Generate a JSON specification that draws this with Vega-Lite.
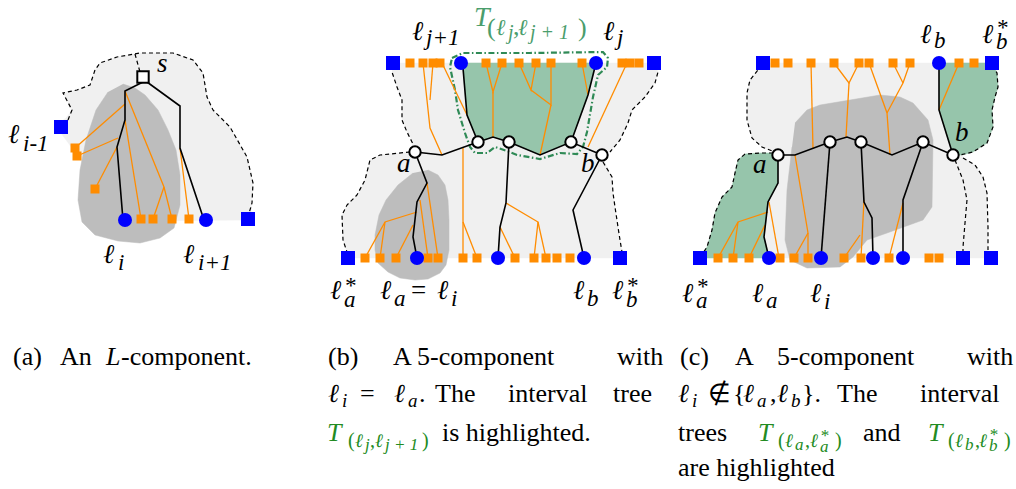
{
"$schema": "https://vega.github.io/schema/vega-lite/v6.json",
"width": 1016, "height": 489,
"autosize": {"type": "fit", "contains": "padding"},
"padding": 0,
"background": "white",
"config": {"view": {"stroke": null}, "text": {"font": "Liberation Serif"}},
"datasets": {
"polys": [
{"id":"LA","k":"L","i":0,"x":61,"y":122},{"id":"LA","k":"L","i":1,"x":66,"y":118},{"id":"LA","k":"L","i":2,"x":72,"y":110},{"id":"LA","k":"L","i":3,"x":63,"y":93},{"id":"LA","k":"L","i":4,"x":77,"y":90},{"id":"LA","k":"L","i":5,"x":90,"y":85},{"id":"LA","k":"L","i":6,"x":95,"y":70},{"id":"LA","k":"L","i":7,"x":100,"y":63},{"id":"LA","k":"L","i":8,"x":117,"y":57},{"id":"LA","k":"L","i":9,"x":140,"y":53},{"id":"LA","k":"L","i":10,"x":173,"y":53},{"id":"LA","k":"L","i":11,"x":193,"y":60},{"id":"LA","k":"L","i":12,"x":203,"y":73},{"id":"LA","k":"L","i":13,"x":207,"y":97},{"id":"LA","k":"L","i":14,"x":213,"y":110},{"id":"LA","k":"L","i":15,"x":230,"y":127},{"id":"LA","k":"L","i":16,"x":247,"y":157},{"id":"LA","k":"L","i":17,"x":253,"y":183},{"id":"LA","k":"L","i":18,"x":252,"y":203},{"id":"LA","k":"L","i":19,"x":250,"y":220},{"id":"LA","k":"L","i":20,"x":125,"y":221},{"id":"LA","k":"L","i":21,"x":61,"y":133},
{"id":"DA","k":"D","i":0,"x":123,"y":84},{"id":"DA","k":"D","i":1,"x":135,"y":88},{"id":"DA","k":"D","i":2,"x":145,"y":95},{"id":"DA","k":"D","i":3,"x":158,"y":110},{"id":"DA","k":"D","i":4,"x":168,"y":130},{"id":"DA","k":"D","i":5,"x":176,"y":150},{"id":"DA","k":"D","i":6,"x":180,"y":175},{"id":"DA","k":"D","i":7,"x":180,"y":205},{"id":"DA","k":"D","i":8,"x":174,"y":228},{"id":"DA","k":"D","i":9,"x":160,"y":238},{"id":"DA","k":"D","i":10,"x":140,"y":243},{"id":"DA","k":"D","i":11,"x":118,"y":241},{"id":"DA","k":"D","i":12,"x":95,"y":235},{"id":"DA","k":"D","i":13,"x":82,"y":222},{"id":"DA","k":"D","i":14,"x":78,"y":200},{"id":"DA","k":"D","i":15,"x":80,"y":170},{"id":"DA","k":"D","i":16,"x":86,"y":140},{"id":"DA","k":"D","i":17,"x":96,"y":110},{"id":"DA","k":"D","i":18,"x":108,"y":92},
{"id":"LB","k":"L","i":0,"x":393,"y":63},{"id":"LB","k":"L","i":1,"x":654,"y":63},{"id":"LB","k":"L","i":2,"x":658,"y":72},{"id":"LB","k":"L","i":3,"x":655,"y":83},{"id":"LB","k":"L","i":4,"x":645,"y":97},{"id":"LB","k":"L","i":5,"x":632,"y":110},{"id":"LB","k":"L","i":6,"x":628,"y":123},{"id":"LB","k":"L","i":7,"x":620,"y":140},{"id":"LB","k":"L","i":8,"x":610,"y":152},{"id":"LB","k":"L","i":9,"x":603,"y":157},{"id":"LB","k":"L","i":10,"x":606,"y":165},{"id":"LB","k":"L","i":11,"x":612,"y":177},{"id":"LB","k":"L","i":12,"x":613,"y":193},{"id":"LB","k":"L","i":13,"x":615,"y":207},{"id":"LB","k":"L","i":14,"x":618,"y":227},{"id":"LB","k":"L","i":15,"x":620,"y":240},{"id":"LB","k":"L","i":16,"x":622,"y":252},{"id":"LB","k":"L","i":17,"x":622,"y":258},{"id":"LB","k":"L","i":18,"x":348,"y":258},{"id":"LB","k":"L","i":19,"x":347,"y":252},{"id":"LB","k":"L","i":20,"x":343,"y":240},{"id":"LB","k":"L","i":21,"x":342,"y":215},{"id":"LB","k":"L","i":22,"x":347,"y":205},{"id":"LB","k":"L","i":23,"x":357,"y":195},{"id":"LB","k":"L","i":24,"x":365,"y":180},{"id":"LB","k":"L","i":25,"x":370,"y":160},{"id":"LB","k":"L","i":26,"x":380,"y":155},{"id":"LB","k":"L","i":27,"x":410,"y":152},{"id":"LB","k":"L","i":28,"x":413,"y":142},{"id":"LB","k":"L","i":29,"x":407,"y":132},{"id":"LB","k":"L","i":30,"x":402,"y":120},{"id":"LB","k":"L","i":31,"x":402,"y":100},{"id":"LB","k":"L","i":32,"x":397,"y":87},{"id":"LB","k":"L","i":33,"x":392,"y":72},
{"id":"DB","k":"D","i":0,"x":428,"y":170},{"id":"DB","k":"D","i":1,"x":438,"y":175},{"id":"DB","k":"D","i":2,"x":445,"y":185},{"id":"DB","k":"D","i":3,"x":448,"y":200},{"id":"DB","k":"D","i":4,"x":449,"y":220},{"id":"DB","k":"D","i":5,"x":449,"y":250},{"id":"DB","k":"D","i":6,"x":446,"y":265},{"id":"DB","k":"D","i":7,"x":440,"y":273},{"id":"DB","k":"D","i":8,"x":428,"y":279},{"id":"DB","k":"D","i":9,"x":415,"y":280},{"id":"DB","k":"D","i":10,"x":400,"y":278},{"id":"DB","k":"D","i":11,"x":388,"y":272},{"id":"DB","k":"D","i":12,"x":378,"y":263},{"id":"DB","k":"D","i":13,"x":375,"y":250},{"id":"DB","k":"D","i":14,"x":375,"y":235},{"id":"DB","k":"D","i":15,"x":379,"y":215},{"id":"DB","k":"D","i":16,"x":386,"y":200},{"id":"DB","k":"D","i":17,"x":398,"y":185},{"id":"DB","k":"D","i":18,"x":413,"y":173},
{"id":"GB","k":"G","i":0,"x":461,"y":63},{"id":"GB","k":"G","i":1,"x":596,"y":63},{"id":"GB","k":"G","i":2,"x":588,"y":95},{"id":"GB","k":"G","i":3,"x":571,"y":142},{"id":"GB","k":"G","i":4,"x":540,"y":155},{"id":"GB","k":"G","i":5,"x":509,"y":142},{"id":"GB","k":"G","i":6,"x":493,"y":137},{"id":"GB","k":"G","i":7,"x":478,"y":142},{"id":"GB","k":"G","i":8,"x":467,"y":115},{"id":"GB","k":"G","i":9,"x":463,"y":68},
{"id":"LC","k":"L","i":0,"x":763,"y":63},{"id":"LC","k":"L","i":1,"x":992,"y":63},{"id":"LC","k":"L","i":2,"x":997,"y":73},{"id":"LC","k":"L","i":3,"x":998,"y":87},{"id":"LC","k":"L","i":4,"x":995,"y":97},{"id":"LC","k":"L","i":5,"x":992,"y":110},{"id":"LC","k":"L","i":6,"x":993,"y":127},{"id":"LC","k":"L","i":7,"x":987,"y":143},{"id":"LC","k":"L","i":8,"x":973,"y":152},{"id":"LC","k":"L","i":9,"x":962,"y":155},{"id":"LC","k":"L","i":10,"x":963,"y":158},{"id":"LC","k":"L","i":11,"x":975,"y":165},{"id":"LC","k":"L","i":12,"x":983,"y":177},{"id":"LC","k":"L","i":13,"x":987,"y":193},{"id":"LC","k":"L","i":14,"x":988,"y":227},{"id":"LC","k":"L","i":15,"x":988,"y":250},{"id":"LC","k":"L","i":16,"x":991,"y":258},{"id":"LC","k":"L","i":17,"x":769,"y":258},{"id":"LC","k":"L","i":18,"x":764,"y":237},{"id":"LC","k":"L","i":19,"x":768,"y":202},{"id":"LC","k":"L","i":20,"x":778,"y":183},{"id":"LC","k":"L","i":21,"x":778,"y":155},{"id":"LC","k":"L","i":22,"x":775,"y":152},{"id":"LC","k":"L","i":23,"x":762,"y":147},{"id":"LC","k":"L","i":24,"x":752,"y":138},{"id":"LC","k":"L","i":25,"x":747,"y":120},{"id":"LC","k":"L","i":26,"x":747,"y":93},{"id":"LC","k":"L","i":27,"x":750,"y":80},{"id":"LC","k":"L","i":28,"x":758,"y":70},
{"id":"DC","k":"D","i":0,"x":795,"y":123},{"id":"DC","k":"D","i":1,"x":807,"y":110},{"id":"DC","k":"D","i":2,"x":820,"y":105},{"id":"DC","k":"D","i":3,"x":880,"y":95},{"id":"DC","k":"D","i":4,"x":900,"y":97},{"id":"DC","k":"D","i":5,"x":913,"y":103},{"id":"DC","k":"D","i":6,"x":928,"y":120},{"id":"DC","k":"D","i":7,"x":933,"y":140},{"id":"DC","k":"D","i":8,"x":932,"y":207},{"id":"DC","k":"D","i":9,"x":923,"y":220},{"id":"DC","k":"D","i":10,"x":887,"y":233},{"id":"DC","k":"D","i":11,"x":867,"y":240},{"id":"DC","k":"D","i":12,"x":853,"y":257},{"id":"DC","k":"D","i":13,"x":840,"y":267},{"id":"DC","k":"D","i":14,"x":807,"y":268},{"id":"DC","k":"D","i":15,"x":790,"y":260},{"id":"DC","k":"D","i":16,"x":785,"y":240},{"id":"DC","k":"D","i":17,"x":787,"y":190},{"id":"DC","k":"D","i":18,"x":792,"y":147},
{"id":"GC1","k":"G","i":0,"x":773,"y":153},{"id":"GC1","k":"G","i":1,"x":760,"y":153},{"id":"GC1","k":"G","i":2,"x":745,"y":154},{"id":"GC1","k":"G","i":3,"x":738,"y":160},{"id":"GC1","k":"G","i":4,"x":735,"y":173},{"id":"GC1","k":"G","i":5,"x":732,"y":187},{"id":"GC1","k":"G","i":6,"x":722,"y":197},{"id":"GC1","k":"G","i":7,"x":715,"y":213},{"id":"GC1","k":"G","i":8,"x":712,"y":230},{"id":"GC1","k":"G","i":9,"x":707,"y":247},{"id":"GC1","k":"G","i":10,"x":702,"y":255},{"id":"GC1","k":"G","i":11,"x":700,"y":258},{"id":"GC1","k":"G","i":12,"x":769,"y":258},{"id":"GC1","k":"G","i":13,"x":764,"y":237},{"id":"GC1","k":"G","i":14,"x":768,"y":202},{"id":"GC1","k":"G","i":15,"x":778,"y":183},{"id":"GC1","k":"G","i":16,"x":778,"y":155},
{"id":"GC2","k":"G","i":0,"x":939,"y":63},{"id":"GC2","k":"G","i":1,"x":992,"y":63},{"id":"GC2","k":"G","i":2,"x":997,"y":73},{"id":"GC2","k":"G","i":3,"x":998,"y":87},{"id":"GC2","k":"G","i":4,"x":995,"y":97},{"id":"GC2","k":"G","i":5,"x":992,"y":110},{"id":"GC2","k":"G","i":6,"x":993,"y":127},{"id":"GC2","k":"G","i":7,"x":987,"y":143},{"id":"GC2","k":"G","i":8,"x":973,"y":152},{"id":"GC2","k":"G","i":9,"x":962,"y":155},{"id":"GC2","k":"G","i":10,"x":953,"y":155},{"id":"GC2","k":"G","i":11,"x":939,"y":110}
],
"dashes": [
{"id":"da1","k":"d","i":0,"x":68,"y":120},{"id":"da1","k":"d","i":1,"x":72,"y":110},{"id":"da1","k":"d","i":2,"x":63,"y":93},{"id":"da1","k":"d","i":3,"x":77,"y":90},{"id":"da1","k":"d","i":4,"x":90,"y":85},{"id":"da1","k":"d","i":5,"x":95,"y":70},{"id":"da1","k":"d","i":6,"x":100,"y":63},{"id":"da1","k":"d","i":7,"x":117,"y":57},{"id":"da1","k":"d","i":8,"x":140,"y":53},{"id":"da1","k":"d","i":9,"x":173,"y":53},{"id":"da1","k":"d","i":10,"x":193,"y":60},{"id":"da1","k":"d","i":11,"x":203,"y":73},{"id":"da1","k":"d","i":12,"x":207,"y":97},{"id":"da1","k":"d","i":13,"x":213,"y":110},{"id":"da1","k":"d","i":14,"x":230,"y":127},{"id":"da1","k":"d","i":15,"x":247,"y":157},{"id":"da1","k":"d","i":16,"x":253,"y":183},{"id":"da1","k":"d","i":17,"x":252,"y":203},{"id":"da1","k":"d","i":18,"x":248,"y":217},
{"id":"da2","k":"d","i":0,"x":135,"y":54},{"id":"da2","k":"d","i":1,"x":140,"y":72},
{"id":"db1","k":"d","i":0,"x":392,"y":66},{"id":"db1","k":"d","i":1,"x":392,"y":72},{"id":"db1","k":"d","i":2,"x":397,"y":87},{"id":"db1","k":"d","i":3,"x":402,"y":100},{"id":"db1","k":"d","i":4,"x":402,"y":120},{"id":"db1","k":"d","i":5,"x":407,"y":132},{"id":"db1","k":"d","i":6,"x":413,"y":144},
{"id":"db2","k":"d","i":0,"x":410,"y":152},{"id":"db2","k":"d","i":1,"x":380,"y":155},{"id":"db2","k":"d","i":2,"x":370,"y":160},{"id":"db2","k":"d","i":3,"x":365,"y":180},{"id":"db2","k":"d","i":4,"x":357,"y":195},{"id":"db2","k":"d","i":5,"x":347,"y":205},{"id":"db2","k":"d","i":6,"x":342,"y":215},{"id":"db2","k":"d","i":7,"x":343,"y":240},{"id":"db2","k":"d","i":8,"x":347,"y":252},
{"id":"db3","k":"d","i":0,"x":656,"y":66},{"id":"db3","k":"d","i":1,"x":658,"y":72},{"id":"db3","k":"d","i":2,"x":655,"y":83},{"id":"db3","k":"d","i":3,"x":645,"y":97},{"id":"db3","k":"d","i":4,"x":632,"y":110},{"id":"db3","k":"d","i":5,"x":628,"y":123},{"id":"db3","k":"d","i":6,"x":620,"y":140},{"id":"db3","k":"d","i":7,"x":610,"y":152},
{"id":"db4","k":"d","i":0,"x":603,"y":162},{"id":"db4","k":"d","i":1,"x":612,"y":177},{"id":"db4","k":"d","i":2,"x":613,"y":193},{"id":"db4","k":"d","i":3,"x":615,"y":207},{"id":"db4","k":"d","i":4,"x":618,"y":227},{"id":"db4","k":"d","i":5,"x":620,"y":240},{"id":"db4","k":"d","i":6,"x":622,"y":252},
{"id":"dc1","k":"d","i":0,"x":763,"y":66},{"id":"dc1","k":"d","i":1,"x":758,"y":70},{"id":"dc1","k":"d","i":2,"x":750,"y":80},{"id":"dc1","k":"d","i":3,"x":747,"y":93},{"id":"dc1","k":"d","i":4,"x":747,"y":120},{"id":"dc1","k":"d","i":5,"x":752,"y":138},{"id":"dc1","k":"d","i":6,"x":762,"y":147},{"id":"dc1","k":"d","i":7,"x":775,"y":152},
{"id":"dc2","k":"d","i":0,"x":773,"y":153},{"id":"dc2","k":"d","i":1,"x":760,"y":153},{"id":"dc2","k":"d","i":2,"x":745,"y":154},{"id":"dc2","k":"d","i":3,"x":738,"y":160},{"id":"dc2","k":"d","i":4,"x":735,"y":173},{"id":"dc2","k":"d","i":5,"x":732,"y":187},{"id":"dc2","k":"d","i":6,"x":722,"y":197},{"id":"dc2","k":"d","i":7,"x":715,"y":213},{"id":"dc2","k":"d","i":8,"x":712,"y":230},{"id":"dc2","k":"d","i":9,"x":707,"y":247},{"id":"dc2","k":"d","i":10,"x":703,"y":253},
{"id":"dc3","k":"d","i":0,"x":992,"y":66},{"id":"dc3","k":"d","i":1,"x":997,"y":73},{"id":"dc3","k":"d","i":2,"x":998,"y":87},{"id":"dc3","k":"d","i":3,"x":995,"y":97},{"id":"dc3","k":"d","i":4,"x":992,"y":110},{"id":"dc3","k":"d","i":5,"x":993,"y":127},{"id":"dc3","k":"d","i":6,"x":987,"y":143},{"id":"dc3","k":"d","i":7,"x":973,"y":152},{"id":"dc3","k":"d","i":8,"x":960,"y":155},
{"id":"dc4","k":"d","i":0,"x":955,"y":160},{"id":"dc4","k":"d","i":1,"x":963,"y":180},{"id":"dc4","k":"d","i":2,"x":967,"y":200},{"id":"dc4","k":"d","i":3,"x":965,"y":223},{"id":"dc4","k":"d","i":4,"x":963,"y":247},{"id":"dc4","k":"d","i":5,"x":963,"y":252},
{"id":"dc5","k":"d","i":0,"x":963,"y":158},{"id":"dc5","k":"d","i":1,"x":975,"y":165},{"id":"dc5","k":"d","i":2,"x":983,"y":177},{"id":"dc5","k":"d","i":3,"x":987,"y":193},{"id":"dc5","k":"d","i":4,"x":988,"y":227},{"id":"dc5","k":"d","i":5,"x":988,"y":250},
{"id":"gb","k":"g","i":0,"x":452,"y":58},{"id":"gb","k":"g","i":1,"x":463,"y":53},{"id":"gb","k":"g","i":2,"x":530,"y":53},{"id":"gb","k":"g","i":3,"x":603,"y":52},{"id":"gb","k":"g","i":4,"x":608,"y":58},{"id":"gb","k":"g","i":5,"x":607,"y":67},{"id":"gb","k":"g","i":6,"x":598,"y":75},{"id":"gb","k":"g","i":7,"x":593,"y":97},{"id":"gb","k":"g","i":8,"x":587,"y":132},{"id":"gb","k":"g","i":9,"x":583,"y":147},{"id":"gb","k":"g","i":10,"x":577,"y":154},{"id":"gb","k":"g","i":11,"x":560,"y":153},{"id":"gb","k":"g","i":12,"x":540,"y":159},{"id":"gb","k":"g","i":13,"x":517,"y":155},{"id":"gb","k":"g","i":14,"x":507,"y":151},{"id":"gb","k":"g","i":15,"x":495,"y":147},{"id":"gb","k":"g","i":16,"x":487,"y":153},{"id":"gb","k":"g","i":17,"x":475,"y":153},{"id":"gb","k":"g","i":18,"x":470,"y":147},{"id":"gb","k":"g","i":19,"x":465,"y":133},{"id":"gb","k":"g","i":20,"x":458,"y":110},{"id":"gb","k":"g","i":21,"x":455,"y":90},{"id":"gb","k":"g","i":22,"x":450,"y":67},{"id":"gb","k":"g","i":23,"x":452,"y":58}
],
"edges": [
{"id":"ka1","k":"k","i":0,"x":143,"y":82},{"id":"ka1","k":"k","i":1,"x":125,"y":91},{"id":"ka1","k":"k","i":2,"x":125,"y":120},{"id":"ka1","k":"k","i":3,"x":117,"y":147},{"id":"ka1","k":"k","i":4,"x":123,"y":220},
{"id":"ka2","k":"k","i":0,"x":147,"y":82},{"id":"ka2","k":"k","i":1,"x":180,"y":106},{"id":"ka2","k":"k","i":2,"x":180,"y":148},{"id":"ka2","k":"k","i":3,"x":204,"y":220},
{"id":"kb1","k":"k","i":0,"x":415,"y":152},{"id":"kb1","k":"k","i":1,"x":442,"y":155},{"id":"kb1","k":"k","i":2,"x":478,"y":142},{"id":"kb1","k":"k","i":3,"x":493,"y":137},{"id":"kb1","k":"k","i":4,"x":509,"y":142},{"id":"kb1","k":"k","i":5,"x":540,"y":155},{"id":"kb1","k":"k","i":6,"x":571,"y":142},{"id":"kb1","k":"k","i":7,"x":602,"y":155},
{"id":"kb2","k":"k","i":0,"x":478,"y":142},{"id":"kb2","k":"k","i":1,"x":467,"y":115},{"id":"kb2","k":"k","i":2,"x":463,"y":68},{"id":"kb2","k":"k","i":3,"x":461,"y":63},
{"id":"kb3","k":"k","i":0,"x":571,"y":142},{"id":"kb3","k":"k","i":1,"x":588,"y":95},{"id":"kb3","k":"k","i":2,"x":596,"y":63},
{"id":"kb4","k":"k","i":0,"x":415,"y":152},{"id":"kb4","k":"k","i":1,"x":427,"y":183},{"id":"kb4","k":"k","i":2,"x":417,"y":202},{"id":"kb4","k":"k","i":3,"x":413,"y":237},{"id":"kb4","k":"k","i":4,"x":417,"y":258},
{"id":"kb5","k":"k","i":0,"x":509,"y":142},{"id":"kb5","k":"k","i":1,"x":506,"y":203},{"id":"kb5","k":"k","i":2,"x":500,"y":227},{"id":"kb5","k":"k","i":3,"x":498,"y":258},
{"id":"kb6","k":"k","i":0,"x":602,"y":155},{"id":"kb6","k":"k","i":1,"x":573,"y":210},{"id":"kb6","k":"k","i":2,"x":584,"y":258},
{"id":"kc1","k":"k","i":0,"x":778,"y":155},{"id":"kc1","k":"k","i":1,"x":795,"y":155},{"id":"kc1","k":"k","i":2,"x":830,"y":142},{"id":"kc1","k":"k","i":3,"x":847,"y":137},{"id":"kc1","k":"k","i":4,"x":861,"y":142},{"id":"kc1","k":"k","i":5,"x":892,"y":155},{"id":"kc1","k":"k","i":6,"x":923,"y":142},{"id":"kc1","k":"k","i":7,"x":953,"y":155},
{"id":"kc2","k":"k","i":0,"x":953,"y":155},{"id":"kc2","k":"k","i":1,"x":939,"y":110},{"id":"kc2","k":"k","i":2,"x":939,"y":63},
{"id":"kc3","k":"k","i":0,"x":778,"y":155},{"id":"kc3","k":"k","i":1,"x":778,"y":183},{"id":"kc3","k":"k","i":2,"x":768,"y":202},{"id":"kc3","k":"k","i":3,"x":764,"y":237},{"id":"kc3","k":"k","i":4,"x":769,"y":258},
{"id":"kc4","k":"k","i":0,"x":830,"y":142},{"id":"kc4","k":"k","i":1,"x":821,"y":258},
{"id":"kc5","k":"k","i":0,"x":861,"y":142},{"id":"kc5","k":"k","i":1,"x":864,"y":202},{"id":"kc5","k":"k","i":2,"x":872,"y":218},{"id":"kc5","k":"k","i":3,"x":873,"y":258},
{"id":"kc6","k":"k","i":0,"x":923,"y":142},{"id":"kc6","k":"k","i":1,"x":903,"y":200},{"id":"kc6","k":"k","i":2,"x":903,"y":258},
{"id":"oa1","k":"o","i":0,"x":125,"y":104},{"id":"oa1","k":"o","i":1,"x":75,"y":148},
{"id":"oa2","k":"o","i":0,"x":118,"y":138},{"id":"oa2","k":"o","i":1,"x":77,"y":156},
{"id":"oa3","k":"o","i":0,"x":117,"y":147},{"id":"oa3","k":"o","i":1,"x":95,"y":189},
{"id":"oa4","k":"o","i":0,"x":125,"y":120},{"id":"oa4","k":"o","i":1,"x":141,"y":219},
{"id":"oa5","k":"o","i":0,"x":125,"y":91},{"id":"oa5","k":"o","i":1,"x":164,"y":187},{"id":"oa5","k":"o","i":2,"x":172,"y":219},
{"id":"oa6","k":"o","i":0,"x":164,"y":187},{"id":"oa6","k":"o","i":1,"x":153,"y":219},
{"id":"oa7","k":"o","i":0,"x":180,"y":148},{"id":"oa7","k":"o","i":1,"x":189,"y":219},
{"id":"ob1","k":"o","i":0,"x":423,"y":63},{"id":"ob1","k":"o","i":1,"x":430,"y":128},{"id":"ob1","k":"o","i":2,"x":442,"y":155},
{"id":"ob2","k":"o","i":0,"x":433,"y":63},{"id":"ob2","k":"o","i":1,"x":430,"y":100},
{"id":"ob3","k":"o","i":0,"x":442,"y":63},{"id":"ob3","k":"o","i":1,"x":467,"y":115},
{"id":"ob4","k":"o","i":0,"x":463,"y":147},{"id":"ob4","k":"o","i":1,"x":463,"y":222},{"id":"ob4","k":"o","i":2,"x":463,"y":258},
{"id":"ob5","k":"o","i":0,"x":463,"y":222},{"id":"ob5","k":"o","i":1,"x":477,"y":258},
{"id":"ob6","k":"o","i":0,"x":427,"y":183},{"id":"ob6","k":"o","i":1,"x":438,"y":258},
{"id":"ob7","k":"o","i":0,"x":420,"y":200},{"id":"ob7","k":"o","i":1,"x":428,"y":258},
{"id":"ob8","k":"o","i":0,"x":417,"y":212},{"id":"ob8","k":"o","i":1,"x":385,"y":222},{"id":"ob8","k":"o","i":2,"x":365,"y":258},
{"id":"ob9","k":"o","i":0,"x":385,"y":222},{"id":"ob9","k":"o","i":1,"x":380,"y":258},
{"id":"ob10","k":"o","i":0,"x":413,"y":225},{"id":"ob10","k":"o","i":1,"x":396,"y":258},
{"id":"ob11","k":"o","i":0,"x":506,"y":203},{"id":"ob11","k":"o","i":1,"x":538,"y":222},{"id":"ob11","k":"o","i":2,"x":534,"y":258},
{"id":"ob12","k":"o","i":0,"x":538,"y":222},{"id":"ob12","k":"o","i":1,"x":546,"y":258},
{"id":"ob13","k":"o","i":0,"x":500,"y":227},{"id":"ob13","k":"o","i":1,"x":515,"y":258},
{"id":"ob14","k":"o","i":0,"x":486,"y":63},{"id":"ob14","k":"o","i":1,"x":493,"y":92},{"id":"ob14","k":"o","i":2,"x":502,"y":63},
{"id":"ob15","k":"o","i":0,"x":493,"y":92},{"id":"ob15","k":"o","i":1,"x":493,"y":137},
{"id":"ob16","k":"o","i":0,"x":519,"y":63},{"id":"ob16","k":"o","i":1,"x":531,"y":90},{"id":"ob16","k":"o","i":2,"x":536,"y":63},
{"id":"ob17","k":"o","i":0,"x":531,"y":90},{"id":"ob17","k":"o","i":1,"x":551,"y":105},{"id":"ob17","k":"o","i":2,"x":551,"y":63},
{"id":"ob18","k":"o","i":0,"x":551,"y":105},{"id":"ob18","k":"o","i":1,"x":540,"y":155},
{"id":"ob19","k":"o","i":0,"x":582,"y":63},{"id":"ob19","k":"o","i":1,"x":588,"y":95},
{"id":"ob20","k":"o","i":0,"x":627,"y":63},{"id":"ob20","k":"o","i":1,"x":588,"y":147},
{"id":"oc1","k":"o","i":0,"x":811,"y":63},{"id":"oc1","k":"o","i":1,"x":813,"y":149},
{"id":"oc2","k":"o","i":0,"x":834,"y":63},{"id":"oc2","k":"o","i":1,"x":849,"y":83},{"id":"oc2","k":"o","i":2,"x":859,"y":63},
{"id":"oc3","k":"o","i":0,"x":849,"y":83},{"id":"oc3","k":"o","i":1,"x":846,"y":137},
{"id":"oc4","k":"o","i":0,"x":869,"y":63},{"id":"oc4","k":"o","i":1,"x":887,"y":113},{"id":"oc4","k":"o","i":2,"x":890,"y":155},
{"id":"oc5","k":"o","i":0,"x":887,"y":113},{"id":"oc5","k":"o","i":1,"x":903,"y":83},{"id":"oc5","k":"o","i":2,"x":910,"y":63},
{"id":"oc6","k":"o","i":0,"x":903,"y":83},{"id":"oc6","k":"o","i":1,"x":893,"y":63},
{"id":"oc7","k":"o","i":0,"x":959,"y":63},{"id":"oc7","k":"o","i":1,"x":939,"y":110},
{"id":"oc8","k":"o","i":0,"x":795,"y":155},{"id":"oc8","k":"o","i":1,"x":808,"y":233},{"id":"oc8","k":"o","i":2,"x":808,"y":258},
{"id":"oc9","k":"o","i":0,"x":808,"y":233},{"id":"oc9","k":"o","i":1,"x":794,"y":258},
{"id":"oc10","k":"o","i":0,"x":769,"y":202},{"id":"oc10","k":"o","i":1,"x":779,"y":258},
{"id":"oc11","k":"o","i":0,"x":768,"y":212},{"id":"oc11","k":"o","i":1,"x":738,"y":222},{"id":"oc11","k":"o","i":2,"x":718,"y":258},
{"id":"oc12","k":"o","i":0,"x":738,"y":222},{"id":"oc12","k":"o","i":1,"x":733,"y":258},
{"id":"oc13","k":"o","i":0,"x":765,"y":225},{"id":"oc13","k":"o","i":1,"x":749,"y":258},
{"id":"oc14","k":"o","i":0,"x":864,"y":200},{"id":"oc14","k":"o","i":1,"x":861,"y":258},
{"id":"oc15","k":"o","i":0,"x":860,"y":235},{"id":"oc15","k":"o","i":1,"x":844,"y":258},
{"id":"oc16","k":"o","i":0,"x":903,"y":203},{"id":"oc16","k":"o","i":1,"x":889,"y":258}
],
"nodes": [
{"k":"bs","x":61,"y":127},{"k":"bs","x":248,"y":219},{"k":"bs","x":393,"y":63},{"k":"bs","x":654,"y":63},{"k":"bs","x":348,"y":258},{"k":"bs","x":620,"y":258},{"k":"bs","x":763,"y":63},{"k":"bs","x":992,"y":63},{"k":"bs","x":700,"y":258},{"k":"bs","x":963,"y":258},{"k":"bs","x":991,"y":258},
{"k":"bc","x":125,"y":220},{"k":"bc","x":206,"y":220},{"k":"bc","x":461,"y":63},{"k":"bc","x":596,"y":63},{"k":"bc","x":417,"y":258},{"k":"bc","x":498,"y":258},{"k":"bc","x":584,"y":258},{"k":"bc","x":939,"y":63},{"k":"bc","x":769,"y":258},{"k":"bc","x":821,"y":258},{"k":"bc","x":873,"y":258},{"k":"bc","x":903,"y":258},
{"k":"os","x":75,"y":148},{"k":"os","x":77,"y":156},{"k":"os","x":95,"y":189},{"k":"os","x":141,"y":219},{"k":"os","x":153,"y":219},{"k":"os","x":172,"y":219},{"k":"os","x":189,"y":219},
{"k":"os","x":410,"y":63},{"k":"os","x":423,"y":63},{"k":"os","x":433,"y":63},{"k":"os","x":440,"y":63},{"k":"os","x":486,"y":63},{"k":"os","x":502,"y":63},{"k":"os","x":519,"y":63},{"k":"os","x":536,"y":63},{"k":"os","x":551,"y":63},{"k":"os","x":582,"y":63},{"k":"os","x":622,"y":63},{"k":"os","x":630,"y":63},{"k":"os","x":639,"y":63},
{"k":"os","x":365,"y":258},{"k":"os","x":380,"y":258},{"k":"os","x":396,"y":258},{"k":"os","x":428,"y":258},{"k":"os","x":438,"y":258},{"k":"os","x":463,"y":258},{"k":"os","x":477,"y":258},{"k":"os","x":515,"y":258},{"k":"os","x":534,"y":258},{"k":"os","x":546,"y":258},{"k":"os","x":557,"y":258},{"k":"os","x":570,"y":258},
{"k":"os","x":775,"y":63},{"k":"os","x":788,"y":63},{"k":"os","x":811,"y":63},{"k":"os","x":834,"y":63},{"k":"os","x":859,"y":63},{"k":"os","x":869,"y":63},{"k":"os","x":893,"y":63},{"k":"os","x":910,"y":63},{"k":"os","x":959,"y":63},{"k":"os","x":974,"y":63},
{"k":"os","x":718,"y":258},{"k":"os","x":733,"y":258},{"k":"os","x":749,"y":258},{"k":"os","x":780,"y":258},{"k":"os","x":794,"y":258},{"k":"os","x":808,"y":258},{"k":"os","x":844,"y":258},{"k":"os","x":861,"y":258},{"k":"os","x":889,"y":258},{"k":"os","x":929,"y":258},{"k":"os","x":939,"y":258},
{"k":"wc","x":415,"y":152},{"k":"wc","x":478,"y":142},{"k":"wc","x":509,"y":142},{"k":"wc","x":571,"y":142},{"k":"wc","x":602,"y":155},{"k":"wc","x":778,"y":155},{"k":"wc","x":830,"y":142},{"k":"wc","x":861,"y":142},{"k":"wc","x":923,"y":142},{"k":"wc","x":953,"y":155},
{"k":"ws","x":143,"y":77}
],
"labels": [
{"r":"B","c":"k","t":"ℓ","x":8,"y":143},{"r":"S","c":"k","t":"i-1","x":23,"y":151},
{"r":"B","c":"k","t":"s","x":157,"y":72},
{"r":"B","c":"k","t":"ℓ","x":103,"y":263},{"r":"S","c":"k","t":"i","x":118,"y":270},
{"r":"B","c":"k","t":"ℓ","x":183,"y":263},{"r":"S","c":"k","t":"i+1","x":198,"y":270},
{"r":"B","c":"k","t":"ℓ","x":412,"y":40},{"r":"S","c":"k","t":"j+1","x":426,"y":45},
{"r":"B","c":"k","t":"ℓ","x":603,"y":40},{"r":"S","c":"k","t":"j","x":617,"y":45},
{"r":"T","c":"g","t":"T","x":474,"y":26},{"r":"TR","c":"g","t":"(","x":487,"y":36},{"r":"TS","c":"g","t":"ℓ","x":496,"y":35},{"r":"TSS","c":"g","t":"j","x":508,"y":39},{"r":"TR","c":"g","t":",","x":513,"y":35},{"r":"TS","c":"g","t":"ℓ","x":518,"y":35},{"r":"TSS","c":"g","t":"j + 1","x":530,"y":39},{"r":"TR","c":"g","t":")","x":578,"y":36},
{"r":"B","c":"k","t":"a","x":397,"y":172},{"r":"B","c":"k","t":"b","x":581,"y":172},
{"r":"B","c":"k","t":"ℓ","x":330,"y":299},{"r":"S","c":"k","t":"*\na","x":344,"y":293},
{"r":"B","c":"k","t":"ℓ","x":380,"y":299},{"r":"S","c":"k","t":"a","x":394,"y":306},{"r":"BR","c":"k","t":"=","x":411,"y":299},{"r":"B","c":"k","t":"ℓ","x":437,"y":299},{"r":"S","c":"k","t":"i","x":451,"y":306},
{"r":"B","c":"k","t":"ℓ","x":573,"y":299},{"r":"S","c":"k","t":"b","x":587,"y":306},
{"r":"B","c":"k","t":"ℓ","x":612,"y":299},{"r":"S","c":"k","t":"*\nb","x":626,"y":293},
{"r":"B","c":"k","t":"ℓ","x":920,"y":43},{"r":"S","c":"k","t":"b","x":934,"y":48},
{"r":"B","c":"k","t":"ℓ","x":982,"y":43},{"r":"S","c":"k","t":"*\nb","x":996,"y":35},
{"r":"B","c":"k","t":"b","x":955,"y":141},{"r":"B","c":"k","t":"a","x":753,"y":173},
{"r":"B","c":"k","t":"ℓ","x":682,"y":302},{"r":"S","c":"k","t":"*\na","x":696,"y":294},
{"r":"B","c":"k","t":"ℓ","x":752,"y":302},{"r":"S","c":"k","t":"a","x":766,"y":308},
{"r":"B","c":"k","t":"ℓ","x":810,"y":302},{"r":"S","c":"k","t":"i","x":824,"y":309},
{"r":"C","c":"k","t":"(a)","x":13,"y":365},{"r":"C","c":"k","t":"An","x":60,"y":365},{"r":"CI","c":"k","t":"L","x":106,"y":365},{"r":"C","c":"k","t":"-component.","x":121,"y":365},
{"r":"C","c":"k","t":"(b)","x":328,"y":365},{"r":"C","c":"k","t":"A","x":393,"y":365},{"r":"C","c":"k","t":"5-component","x":417,"y":365},{"r":"C","c":"k","t":"with","x":617,"y":365},
{"r":"CI","c":"k","t":"ℓ","x":328,"y":402},{"r":"CS","c":"k","t":"i","x":342,"y":407},{"r":"C","c":"k","t":"=","x":360,"y":402},{"r":"CI","c":"k","t":"ℓ","x":394,"y":402},{"r":"CS","c":"k","t":"a","x":408,"y":407},{"r":"C","c":"k","t":".","x":419,"y":402},{"r":"C","c":"k","t":"The","x":435,"y":402},{"r":"C","c":"k","t":"interval","x":508,"y":402},{"r":"C","c":"k","t":"tree","x":613,"y":402},
{"r":"CI","c":"h","t":"T","x":327,"y":441},{"r":"CSR","c":"h","t":"(","x":348,"y":447},{"r":"CS","c":"h","t":"ℓ","x":355,"y":447},{"r":"CSS","c":"h","t":"j","x":365,"y":450},{"r":"CSR","c":"h","t":",","x":370,"y":447},{"r":"CS","c":"h","t":"ℓ","x":375,"y":447},{"r":"CSS","c":"h","t":"j + 1","x":385,"y":450},{"r":"CSR","c":"h","t":")","x":422,"y":447},{"r":"C","c":"k","t":"is highlighted.","x":442,"y":441},
{"r":"C","c":"k","t":"(c)","x":680,"y":365},{"r":"C","c":"k","t":"A","x":735,"y":365},{"r":"C","c":"k","t":"5-component","x":777,"y":365},{"r":"C","c":"k","t":"with","x":967,"y":365},
{"r":"CI","c":"k","t":"ℓ","x":678,"y":402},{"r":"CS","c":"k","t":"i","x":692,"y":407},{"r":"C","c":"k","t":"∉","x":708,"y":402},{"r":"C","c":"k","t":"{","x":733,"y":402},{"r":"CI","c":"k","t":"ℓ","x":743,"y":402},{"r":"CS","c":"k","t":"a","x":757,"y":407},{"r":"C","c":"k","t":",","x":770,"y":402},{"r":"CI","c":"k","t":"ℓ","x":777,"y":402},{"r":"CS","c":"k","t":"b","x":791,"y":407},{"r":"C","c":"k","t":"}.","x":802,"y":402},{"r":"C","c":"k","t":"The","x":837,"y":402},{"r":"C","c":"k","t":"interval","x":920,"y":402},
{"r":"C","c":"k","t":"trees","x":678,"y":441},{"r":"CI","c":"h","t":"T","x":758,"y":441},{"r":"CSR","c":"h","t":"(","x":778,"y":447},{"r":"CS","c":"h","t":"ℓ","x":785,"y":447},{"r":"CSS","c":"h","t":"a","x":795,"y":450},{"r":"CSR","c":"h","t":",","x":805,"y":447},{"r":"CS","c":"h","t":"ℓ","x":810,"y":447},{"r":"CSS","c":"h","t":"*\na","x":820,"y":441},{"r":"CSR","c":"h","t":")","x":835,"y":447},
{"r":"C","c":"k","t":"and","x":863,"y":441},{"r":"CI","c":"h","t":"T","x":928,"y":441},{"r":"CSR","c":"h","t":"(","x":948,"y":447},{"r":"CS","c":"h","t":"ℓ","x":955,"y":447},{"r":"CSS","c":"h","t":"b","x":965,"y":450},{"r":"CSR","c":"h","t":",","x":975,"y":447},{"r":"CS","c":"h","t":"ℓ","x":979,"y":447},{"r":"CSS","c":"h","t":"*\nb","x":989,"y":440},{"r":"CSR","c":"h","t":")","x":1004,"y":447},
{"r":"C","c":"k","t":"are highlighted","x":678,"y":476}
]
},
"encoding": {
"x": {"field": "x", "type": "quantitative", "scale": {"domain": [0, 1016], "nice": false, "zero": false}, "axis": null},
"y": {"field": "y", "type": "quantitative", "scale": {"domain": [0, 489], "nice": false, "zero": false, "reverse": true}, "axis": null}
},
"layer": [
{"data": {"name": "polys"}, "transform": [{"filter": "datum.k == 'L'"}], "mark": {"type": "line", "fill": "#f0f0f0", "stroke": "#f0f0f0", "strokeWidth": 0.5}, "encoding": {"detail": {"field": "id"}, "order": {"field": "i", "type": "quantitative"}}},
{"data": {"name": "polys"}, "transform": [{"filter": "datum.k == 'D'"}], "mark": {"type": "line", "fill": "#bdbdbd", "stroke": "#bdbdbd", "strokeWidth": 0.5}, "encoding": {"detail": {"field": "id"}, "order": {"field": "i", "type": "quantitative"}}},
{"data": {"name": "polys"}, "transform": [{"filter": "datum.k == 'G'"}], "mark": {"type": "line", "fill": "#96c5ab", "stroke": "#96c5ab", "strokeWidth": 0.5}, "encoding": {"detail": {"field": "id"}, "order": {"field": "i", "type": "quantitative"}}},
{"data": {"name": "dashes"}, "transform": [{"filter": "datum.k == 'd'"}], "mark": {"type": "line", "color": "black", "strokeWidth": 1.2, "strokeDash": [4, 3]}, "encoding": {"detail": {"field": "id"}, "order": {"field": "i", "type": "quantitative"}}},
{"data": {"name": "dashes"}, "transform": [{"filter": "datum.k == 'g'"}], "mark": {"type": "line", "color": "#2f8a56", "strokeWidth": 2.2, "strokeDash": [6, 2.5, 1.5, 2.5]}, "encoding": {"detail": {"field": "id"}, "order": {"field": "i", "type": "quantitative"}}},
{"data": {"name": "edges"}, "transform": [{"filter": "datum.k == 'o'"}], "mark": {"type": "line", "color": "#ff8c00", "strokeWidth": 1.3}, "encoding": {"detail": {"field": "id"}, "order": {"field": "i", "type": "quantitative"}}},
{"data": {"name": "edges"}, "transform": [{"filter": "datum.k == 'k'"}], "mark": {"type": "line", "color": "black", "strokeWidth": 1.6}, "encoding": {"detail": {"field": "id"}, "order": {"field": "i", "type": "quantitative"}}},
{"data": {"name": "nodes"}, "transform": [{"filter": "datum.k == 'os'"}], "mark": {"type": "point", "shape": "square", "filled": true, "color": "#ff8c00", "size": 81, "opacity": 1}},
{"data": {"name": "nodes"}, "transform": [{"filter": "datum.k == 'bs'"}], "mark": {"type": "point", "shape": "square", "filled": true, "color": "#0000ff", "size": 196, "opacity": 1}},
{"data": {"name": "nodes"}, "transform": [{"filter": "datum.k == 'bc'"}], "mark": {"type": "point", "shape": "circle", "filled": true, "color": "#0000ff", "size": 196, "opacity": 1}},
{"data": {"name": "nodes"}, "transform": [{"filter": "datum.k == 'wc'"}], "mark": {"type": "point", "shape": "circle", "filled": true, "fill": "white", "stroke": "black", "strokeWidth": 2, "size": 130, "opacity": 1}},
{"data": {"name": "nodes"}, "transform": [{"filter": "datum.k == 'ws'"}], "mark": {"type": "point", "shape": "square", "filled": true, "fill": "white", "stroke": "black", "strokeWidth": 2, "size": 130, "opacity": 1}},
{"data": {"name": "labels"}, "transform": [{"filter": "datum.r == 'B'"}], "mark": {"type": "text", "align": "left", "baseline": "alphabetic", "font": "Liberation Serif", "fontSize": 27, "fontStyle": "italic"}, "encoding": {"text": {"field": "t"}, "color": {"field": "c", "type": "nominal", "scale": {"domain": ["k", "g", "h"], "range": ["#000000", "#4a9d6c", "#228b22"]}, "legend": null}}},
{"data": {"name": "labels"}, "transform": [{"filter": "datum.r == 'BR'"}], "mark": {"type": "text", "align": "left", "baseline": "alphabetic", "font": "Liberation Serif", "fontSize": 27}, "encoding": {"text": {"field": "t"}, "color": {"field": "c", "type": "nominal", "scale": {"domain": ["k", "g", "h"], "range": ["#000000", "#4a9d6c", "#228b22"]}, "legend": null}}},
{"data": {"name": "labels"}, "transform": [{"filter": "datum.r == 'S'"}], "mark": {"type": "text", "align": "left", "baseline": "alphabetic", "font": "Liberation Serif", "fontSize": 23, "fontStyle": "italic", "lineBreak": "\n", "lineHeight": 14}, "encoding": {"text": {"field": "t"}, "color": {"field": "c", "type": "nominal", "scale": {"domain": ["k", "g", "h"], "range": ["#000000", "#4a9d6c", "#228b22"]}, "legend": null}}},
{"data": {"name": "labels"}, "transform": [{"filter": "datum.r == 'T'"}], "mark": {"type": "text", "align": "left", "baseline": "alphabetic", "font": "Liberation Serif", "fontSize": 28, "fontStyle": "italic"}, "encoding": {"text": {"field": "t"}, "color": {"field": "c", "type": "nominal", "scale": {"domain": ["k", "g", "h"], "range": ["#000000", "#4a9d6c", "#228b22"]}, "legend": null}}},
{"data": {"name": "labels"}, "transform": [{"filter": "datum.r == 'TR'"}], "mark": {"type": "text", "align": "left", "baseline": "alphabetic", "font": "Liberation Serif", "fontSize": 26}, "encoding": {"text": {"field": "t"}, "color": {"field": "c", "type": "nominal", "scale": {"domain": ["k", "g", "h"], "range": ["#000000", "#4a9d6c", "#228b22"]}, "legend": null}}},
{"data": {"name": "labels"}, "transform": [{"filter": "datum.r == 'TS'"}], "mark": {"type": "text", "align": "left", "baseline": "alphabetic", "font": "Liberation Serif", "fontSize": 23, "fontStyle": "italic"}, "encoding": {"text": {"field": "t"}, "color": {"field": "c", "type": "nominal", "scale": {"domain": ["k", "g", "h"], "range": ["#000000", "#4a9d6c", "#228b22"]}, "legend": null}}},
{"data": {"name": "labels"}, "transform": [{"filter": "datum.r == 'TSS'"}], "mark": {"type": "text", "align": "left", "baseline": "alphabetic", "font": "Liberation Serif", "fontSize": 20, "fontStyle": "italic"}, "encoding": {"text": {"field": "t"}, "color": {"field": "c", "type": "nominal", "scale": {"domain": ["k", "g", "h"], "range": ["#000000", "#4a9d6c", "#228b22"]}, "legend": null}}},
{"data": {"name": "labels"}, "transform": [{"filter": "datum.r == 'C'"}], "mark": {"type": "text", "align": "left", "baseline": "alphabetic", "font": "Liberation Serif", "fontSize": 26}, "encoding": {"text": {"field": "t"}, "color": {"field": "c", "type": "nominal", "scale": {"domain": ["k", "g", "h"], "range": ["#000000", "#4a9d6c", "#228b22"]}, "legend": null}}},
{"data": {"name": "labels"}, "transform": [{"filter": "datum.r == 'CI'"}], "mark": {"type": "text", "align": "left", "baseline": "alphabetic", "font": "Liberation Serif", "fontSize": 26, "fontStyle": "italic"}, "encoding": {"text": {"field": "t"}, "color": {"field": "c", "type": "nominal", "scale": {"domain": ["k", "g", "h"], "range": ["#000000", "#4a9d6c", "#228b22"]}, "legend": null}}},
{"data": {"name": "labels"}, "transform": [{"filter": "datum.r == 'CS'"}], "mark": {"type": "text", "align": "left", "baseline": "alphabetic", "font": "Liberation Serif", "fontSize": 19, "fontStyle": "italic"}, "encoding": {"text": {"field": "t"}, "color": {"field": "c", "type": "nominal", "scale": {"domain": ["k", "g", "h"], "range": ["#000000", "#4a9d6c", "#228b22"]}, "legend": null}}},
{"data": {"name": "labels"}, "transform": [{"filter": "datum.r == 'CSR'"}], "mark": {"type": "text", "align": "left", "baseline": "alphabetic", "font": "Liberation Serif", "fontSize": 20}, "encoding": {"text": {"field": "t"}, "color": {"field": "c", "type": "nominal", "scale": {"domain": ["k", "g", "h"], "range": ["#000000", "#4a9d6c", "#228b22"]}, "legend": null}}},
{"data": {"name": "labels"}, "transform": [{"filter": "datum.r == 'CSS'"}], "mark": {"type": "text", "align": "left", "baseline": "alphabetic", "font": "Liberation Serif", "fontSize": 17, "fontStyle": "italic", "lineBreak": "\n", "lineHeight": 11}, "encoding": {"text": {"field": "t"}, "color": {"field": "c", "type": "nominal", "scale": {"domain": ["k", "g", "h"], "range": ["#000000", "#4a9d6c", "#228b22"]}, "legend": null}}}
]
}
